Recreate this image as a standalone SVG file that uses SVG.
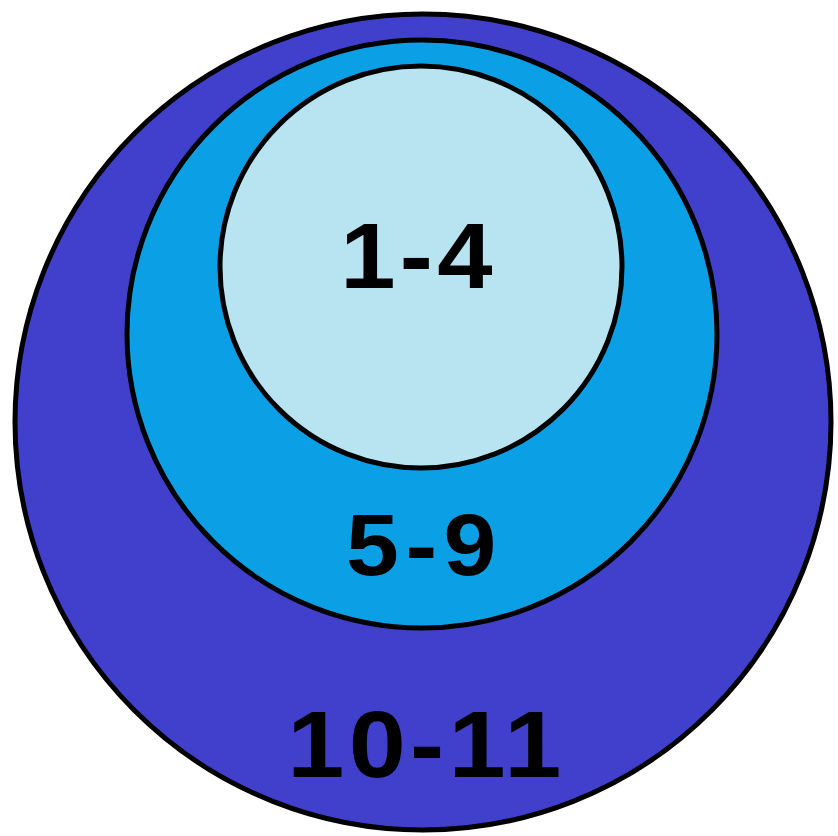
<svg xmlns="http://www.w3.org/2000/svg" width="838" height="836" viewBox="0 0 838 836">
<style>
.ring{stroke:#000;stroke-width:5}
.lbl{font-family:"Liberation Sans",Arial,sans-serif;font-weight:bold;fill:#000;text-anchor:middle}
</style>
<rect width="838" height="836" fill="#fff"/>
<g id="outer">
<circle class="ring" cx="423" cy="422" r="408" fill="#4040CC"/>
<text class="lbl" font-size="95" letter-spacing="4" transform="translate(426.5,777) scale(1.08,1)">10-11</text>
</g>
<g id="middle">
<ellipse class="ring" cx="422" cy="334" rx="295" ry="294" fill="#0BA0E6"/>
<text class="lbl" font-size="88" letter-spacing="6" transform="translate(424.5,575) scale(1.08,1)">5-9</text>
</g>
<g id="inner">
<circle class="ring" cx="421" cy="267" r="201" fill="#B8E3F0"/>
<text class="lbl" font-size="92" letter-spacing="4" transform="translate(418.5,288) scale(1.08,1)">1-4</text>
</g>
<g id="connectors"/>
</svg>
